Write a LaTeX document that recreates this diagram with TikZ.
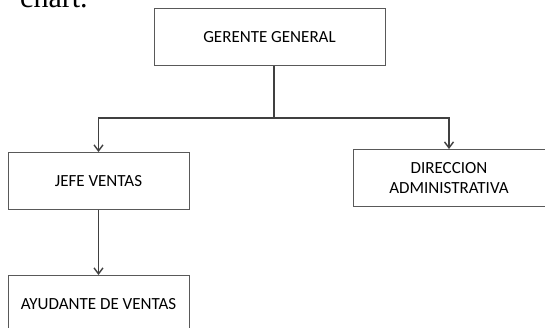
\documentclass[tikz,border=0pt]{standalone}
\usepackage{fontspec}
\setmainfont{Carlito}
\newfontfamily\textofont{Liberation Serif}
\usetikzlibrary{arrows.meta,positioning}

\begin{document}
\begin{tikzpicture}[x=1pt,y=-1pt,
  puesto/.style={draw=black!65, line width=0.9pt, minimum height=57pt,
    inner sep=0pt, align=center, font=\fontsize{17}{20}\selectfont},
  linea/.style={draw=black!75, line width=1.4pt},
  flecha/.style={linea, -{Straight Barb[length=6pt,width=9pt]}}]

  % Frame
  \useasboundingbox (0,0) rectangle (545,328);
  \clip (0,0) rectangle (545,328);

  % Cut-off text line above the chart
  \node[anchor=base west, inner sep=0pt, font=\textofont\fontsize{30}{34}\selectfont]
    (texto) at (20,7.5) {chart.};

  % Boxes
  \node[puesto, minimum width=231pt] (gerente) at (269.5,37) {GERENTE GENERAL};
  \node[puesto, minimum width=181pt] (jefe) at (98.5,181) {JEFE VENTAS};
  \node[puesto, minimum width=192pt] (direccion) at (449,178) {DIRECCION\\ADMINISTRATIVA};
  \node[puesto, minimum width=181pt] (ayudante) at (98.5,304) {AYUDANTE DE VENTAS};

  % Branch point
  \coordinate (rama) at (274,118);

  % Connectors
  \draw[linea] (rama |- gerente.south) -- (rama);
  \draw[flecha] (rama) -| (jefe.north);
  \draw[flecha] (rama) -| (direccion.north);
  \draw[flecha] (jefe) -- (ayudante);

\end{tikzpicture}
\end{document}
